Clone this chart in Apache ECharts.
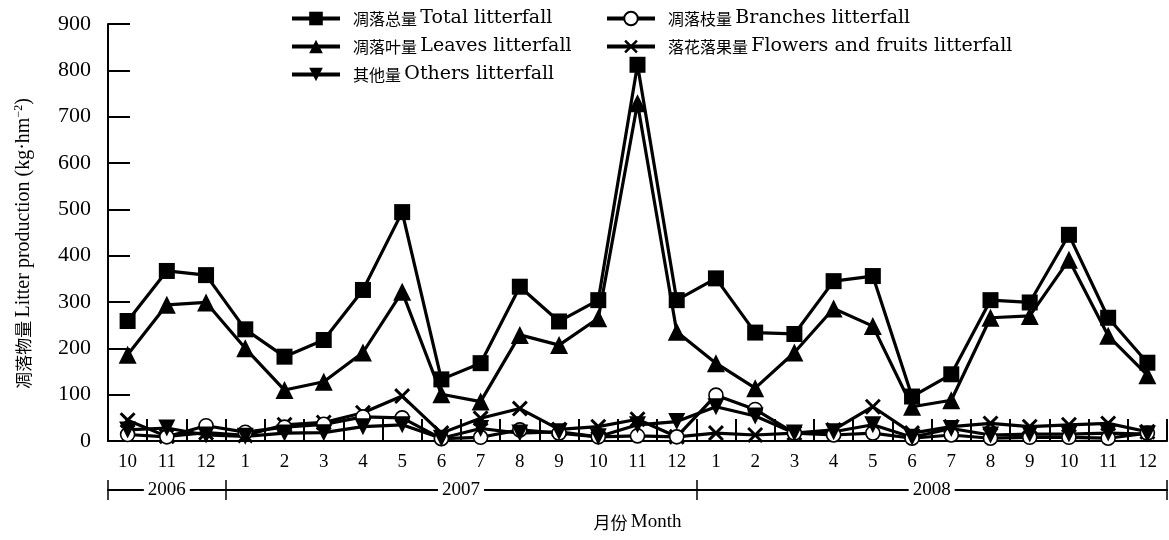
<!DOCTYPE html>
<html>
<head>
<meta charset="utf-8">
<script src="https://cdn.jsdelivr.net/npm/echarts@6/dist/echarts.min.js"></script>
<style>
  html, body { margin: 0; padding: 0; background: #fff; }
  #chart { width: 1169px; height: 540px; }
</style>
</head>
<body>
<div id="chart"></div>
<script>
// months Oct 2006 .. Dec 2008
const months = ['10', '11', '12',
  '1', '2', '3', '4', '5', '6', '7', '8', '9', '10', '11', '12',
  '1', '2', '3', '4', '5', '6', '7', '8', '9', '10', '11', '12'];
const years = ['2006', '2007', '2008'];
const monthsPerYear = [3, 12, 12];

const total    = [259, 367, 358, 241, 182, 218, 326, 494, 133, 168, 333, 258, 304, 812, 304, 351, 234, 231, 345, 356, 96, 144, 304, 299, 445, 266, 169];
const leaves   = [186, 294, 299, 200, 110, 128, 191, 322, 101, 85, 229, 207, 265, 729, 236, 168, 114, 191, 286, 248, 74, 88, 266, 270, 391, 227, 142];
const branches = [14, 9, 33, 19, 30, 36, 52, 50, 5, 8, 24, 17, 9, 11, 9, 99, 68, 17, 13, 17, 6, 13, 6, 8, 8, 6, 17];
const flowers  = [45, 10, 18, 12, 35, 40, 61, 97, 17, 49, 70, 25, 31, 47, 9, 17, 13, 17, 24, 74, 17, 31, 38, 31, 35, 38, 20];
const others   = [24, 28, 13, 10, 17, 18, 31, 35, 6, 27, 17, 20, 9, 35, 42, 74, 54, 17, 20, 35, 8, 27, 13, 15, 15, 17, 15];

const yMax = 900;
const yStep = 100;

const serif = "'Liberation Serif', 'Times New Roman', serif";
const cjk = "'Noto Sans CJK SC', sans-serif";

// year bracket positions (in month units)
const yearBounds = [0];
monthsPerYear.forEach(n => yearBounds.push(yearBounds[yearBounds.length - 1] + n));
const yearMids = years.map((y, i) => (yearBounds[i] + yearBounds[i + 1]) / 2);

const crossPath = 'path://M0,1.3L1.3,0L5,3.7L8.7,0L10,1.3L6.3,5L10,8.7L8.7,10L5,6.3L1.3,10L0,8.7L3.7,5Z';
const downTri = 'path://M0,0L10,0L5,9Z';

const chartDom = document.getElementById('chart');
const myChart = echarts.init(chartDom, null, { renderer: 'canvas' });

const legendRich = {
    c: { fontFamily: cjk, fontSize: 16, color: '#000' },
    e: { fontFamily: "'DejaVu Serif', serif", fontSize: 19, color: '#000' }
};
const legendFmt = (name) => {
    const i = name.indexOf(' ');
    return '{c|' + name.slice(0, i) + '} {e|' + name.slice(i + 1) + '}';
};
const legendBase = {
    orient: 'vertical',
    top: 4,
    itemWidth: 48,
    itemHeight: 17,
    itemGap: 9,
    lineStyle: { width: 4 },
    formatter: legendFmt,
    textStyle: { rich: legendRich, padding: [0, 0, 0, 8] }
};

const mkLine = (name, data, symbol, size, fill) => ({
    name: name,
    type: 'line',
    data: data,
    symbol: symbol,
    symbolSize: size,
    showSymbol: true,
    lineStyle: { color: '#000', width: 3.2 },
    itemStyle: { color: fill, borderColor: '#000', borderWidth: fill === '#fff' ? 1.6 : 0 },
    emphasis: { disabled: true },
    animation: false
});

const option = {
    backgroundColor: '#fff',
    grid: {
        left: 108,
        right: 2,
        top: 24,
        bottom: 99,
        containLabel: false,
        outerBoundsMode: 'none'
    },
    legend: [
        Object.assign({}, legendBase, {
            left: 285,
            data: ['凋落总量 Total litterfall', '凋落叶量 Leaves litterfall', '其他量 Others litterfall']
        }),
        Object.assign({}, legendBase, {
            left: 600,
            data: ['凋落枝量 Branches litterfall', '落花落果量 Flowers and fruits litterfall']
        })
    ],
    xAxis: [
        {
            type: 'category',
            data: months,
            boundaryGap: true,
            name: '{c|月份} {e|Month}',
            nameLocation: 'middle',
            nameGap: 72,
            nameTextStyle: {
                rich: {
                    c: { fontFamily: cjk, fontSize: 17, color: '#000' },
                    e: { fontFamily: serif, fontSize: 19, color: '#000' }
                }
            },
            axisLine: { lineStyle: { color: '#000', width: 2 } },
            axisTick: { show: true, inside: true, length: 22, interval: 0, lineStyle: { color: '#000', width: 2 } },
            axisLabel: { interval: 0, margin: 12, color: '#000', fontFamily: serif, fontSize: 19 },
            splitLine: { show: false }
        },
        {
            // year bracket, line + downward ticks + labels
            type: 'value',
            position: 'bottom',
            offset: 49,
            min: 0,
            max: months.length,
            axisLine: { show: true, onZero: false, lineStyle: { color: '#000', width: 2 } },
            axisTick: { show: true, inside: false, length: 10, customValues: yearBounds, lineStyle: { color: '#000', width: 1.5 } },
            axisLabel: {
                show: true,
                customValues: yearMids,
                formatter: (v) => years[yearMids.indexOf(v)] || '',
                margin: 0,
                verticalAlign: 'middle',
                backgroundColor: '#fff',
                padding: [0, 4],
                color: '#000',
                fontFamily: serif,
                fontSize: 19
            },
            splitLine: { show: false }
        },
        {
            // year bracket, upward ticks
            type: 'value',
            position: 'bottom',
            offset: 49,
            min: 0,
            max: months.length,
            axisLine: { show: false, onZero: false },
            axisTick: { show: true, inside: true, length: 10, customValues: yearBounds, lineStyle: { color: '#000', width: 1.5 } },
            axisLabel: { show: false },
            splitLine: { show: false }
        }
    ],
    yAxis: {
        type: 'value',
        min: 0,
        max: yMax,
        interval: yStep,
        name: '{c|凋落物量} {e|Litter production (kg·hm}{s|−2}{e|)}',
        nameLocation: 'middle',
        nameGap: 73,
        nameTextStyle: {
            padding: [0, 22, 0, 0],
            rich: {
                c: { fontFamily: cjk, fontSize: 17, color: '#000' },
                e: { fontFamily: serif, fontSize: 20, color: '#000' },
                s: { fontFamily: serif, fontSize: 12, color: '#000', verticalAlign: 'top', padding: [0, 0, 10, 0] }
            }
        },
        axisLine: { show: true, lineStyle: { color: '#000', width: 2 } },
        axisTick: { show: true, inside: true, length: 22, lineStyle: { color: '#000', width: 2 } },
        axisLabel: { margin: 17, color: '#000', fontFamily: serif, fontSize: 22 },
        splitLine: { show: false }
    },
    series: [
        mkLine('凋落总量 Total litterfall', total, 'rect', 16, '#000'),
        mkLine('凋落叶量 Leaves litterfall', leaves, 'triangle', 18, '#000'),
        mkLine('落花落果量 Flowers and fruits litterfall', flowers, crossPath, 16, '#000'),
        mkLine('凋落枝量 Branches litterfall', branches, 'circle', 14, '#fff'),
        mkLine('其他量 Others litterfall', others, downTri, 17, '#000')
    ]
};

myChart.setOption(option);
</script>
</body>
</html>
